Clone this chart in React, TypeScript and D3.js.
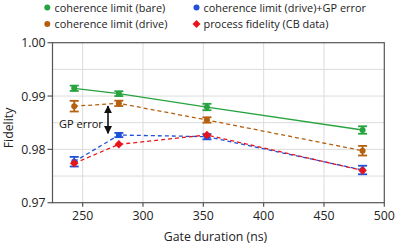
import * as d3 from 'd3';

const durations = [243, 280, 353, 482];
const bare = [0.99145, 0.99045, 0.98794, 0.98363];
const bareErr = [0.0005, 0.00045, 0.0006, 0.0007];
const drive = [0.9881, 0.98863, 0.98551, 0.97975];
const driveErr = [0.001, 0.0005, 0.0005, 0.0009];
const driveGp = [0.97769, 0.98269, 0.98238, 0.97613];
const driveGpErr = [0.0009, 0.0004, 0.0005, 0.0008];
const cbData = [0.97739, 0.98095, 0.98269, 0.97604];

const xTicks = [250, 300, 350, 400, 450, 500];
const yTicks = [0.97, 0.98, 0.99, 1.0];
const yGrid = [0.975, 0.98, 0.985, 0.99, 0.995];

const legendLabels = [
  'coherence limit (bare)',
  'coherence limit (drive)+GP error',
  'coherence limit (drive)',
  'process fidelity (CB data)',
];

const GREEN = '#27a33f';
const BROWN = '#b5600f';
const BLUE = '#1f50d8';
const RED = '#e8141c';
const FONT = '"Open Sans", sans-serif';

const width = 395;
const height = 245;
const margin = { left: 52.5, right: 10.7, top: 42.7, bottom: 42.3 };

export default function App() {
  const x = d3
    .scaleLinear()
    .domain([225, 500])
    .range([margin.left, width - margin.right]);
  const y = d3
    .scaleLinear()
    .domain([0.97, 1.0])
    .range([height - margin.bottom, margin.top]);

  const line = d3
    .line<number>()
    .x((_, i) => x(durations[i]))
    .y((d) => y(d));

  const series = [
    { vals: bare, err: bareErr, color: GREEN, dash: undefined },
    { vals: drive, err: driveErr, color: BROWN, dash: '4,3' },
    { vals: driveGp, err: driveGpErr, color: BLUE, dash: '4,3' },
  ];

  const errBars = (vals: number[], err: number[], color: string) =>
    vals.map((v, i) => {
      const cx = x(durations[i]);
      const y0 = y(v - err[i]);
      const y1 = y(v + err[i]);
      return (
        <g key={i} stroke={color} strokeWidth={1.8}>
          <line x1={cx} x2={cx} y1={y0} y2={y1} />
          <line x1={cx - 4.5} x2={cx + 4.5} y1={y0} y2={y0} />
          <line x1={cx - 4.5} x2={cx + 4.5} y1={y1} y2={y1} />
        </g>
      );
    });

  const diamond = (cx: number, cy: number, r: number) =>
    `M${cx},${cy - r}L${cx + r},${cy}L${cx},${cy + r}L${cx - r},${cy}Z`;

  const arrowX = x(271);
  const arrowTop = y(0.98813);
  const arrowBot = y(0.98301);

  return (
    <svg
      width={width}
      height={height}
      style={{ position: 'absolute', left: 0, top: 0, fontFamily: FONT }}
    >
      <rect width={width} height={height} fill="white" />
      {/* grid */}
      {xTicks.slice(0, -1).map((t) => (
        <line
          key={'gx' + t}
          x1={x(t)}
          x2={x(t)}
          y1={y(1.0)}
          y2={y(0.97)}
          stroke="#dcdcdc"
          strokeWidth={1}
        />
      ))}
      {yGrid.map((t) => (
        <line
          key={'gy' + t}
          x1={x(225)}
          x2={x(500)}
          y1={y(t)}
          y2={y(t)}
          stroke="#dcdcdc"
          strokeWidth={1}
        />
      ))}
      {/* frame */}
      <rect
        x={x(225)}
        y={y(1.0)}
        width={x(500) - x(225)}
        height={y(0.97) - y(1.0)}
        fill="none"
        stroke="#555"
        strokeWidth={1.2}
      />
      {xTicks.map((t) => (
        <g key={'xt' + t}>
          <line x1={x(t)} x2={x(t)} y1={y(0.97)} y2={y(0.97) + 4} stroke="#555" strokeWidth={1.2} />
          <text x={x(t)} y={y(0.97) + 17.5} textAnchor="middle" fontSize={12.3} fill="#222">
            {t}
          </text>
        </g>
      ))}
      {yTicks.map((t) => (
        <g key={'yt' + t}>
          <line x1={x(225) - 5} x2={x(225)} y1={y(t)} y2={y(t)} stroke="#555" strokeWidth={1.2} />
          <text x={x(225) - 7} y={y(t) + 4.5} textAnchor="end" fontSize={12.3} fill="#222">
            {t.toFixed(2)}
          </text>
        </g>
      ))}
      <text x={215.5} y={241} textAnchor="middle" fontSize={12.3} fill="#222">
        Gate duration (ns)
      </text>
      <text
        transform={`translate(13,128) rotate(-90)`}
        textAnchor="middle"
        fontSize={12.3}
        fill="#222"
      >
        Fidelity
      </text>

      {/* lines */}
      {series.map((s, k) => (
        <path
          key={'l' + k}
          d={line(s.vals) ?? ''}
          fill="none"
          stroke={s.color}
          strokeWidth={1.3}
          strokeDasharray={s.dash}
        />
      ))}
      <path d={line(cbData) ?? ''} fill="none" stroke={RED} strokeWidth={1.3} strokeDasharray="4,3" />

      {series.map((s, k) => (
        <g key={'s' + k}>
          {errBars(s.vals, s.err, s.color)}
          {s.vals.map((v, i) => (
            <circle key={i} cx={x(durations[i])} cy={y(v)} r={3} fill={s.color} />
          ))}
        </g>
      ))}
      {cbData.map((v, i) => (
        <path key={'d' + i} d={diamond(x(durations[i]), y(v), 4.2)} fill={RED} />
      ))}

      {/* GP error arrow */}
      <defs>
        <marker id="ah" viewBox="0 0 10 10" refX="9" refY="5" markerWidth="5" markerHeight="5" orient="auto-start-reverse">
          <path d="M0,0L10,5L0,10Z" fill="#111" />
        </marker>
      </defs>
      <line
        x1={arrowX}
        x2={arrowX}
        y1={arrowTop}
        y2={arrowBot}
        stroke="#111"
        strokeWidth={1.6}
        markerStart="url(#ah)"
        markerEnd="url(#ah)"
      />
      <text x={81} y={128} textAnchor="middle" fontSize={11} fill="#111">
        GP error
      </text>

      {/* legend */}
      <g fontSize={10.9} fill="#222">
        <circle cx={47.3} cy={7.5} r={3} fill={GREEN} />
        <text x={54.5} y={11.5}>{legendLabels[0]}</text>
        <circle cx={196.5} cy={7.5} r={3} fill={BLUE} />
        <text x={203.5} y={11.5}>{legendLabels[1]}</text>
        <circle cx={47.3} cy={24} r={3} fill={BROWN} />
        <text x={54.5} y={28}>{legendLabels[2]}</text>
        <path d={diamond(196.5, 24, 4)} fill={RED} />
        <text x={203.5} y={28}>{legendLabels[3]}</text>
      </g>
    </svg>
  );
}
